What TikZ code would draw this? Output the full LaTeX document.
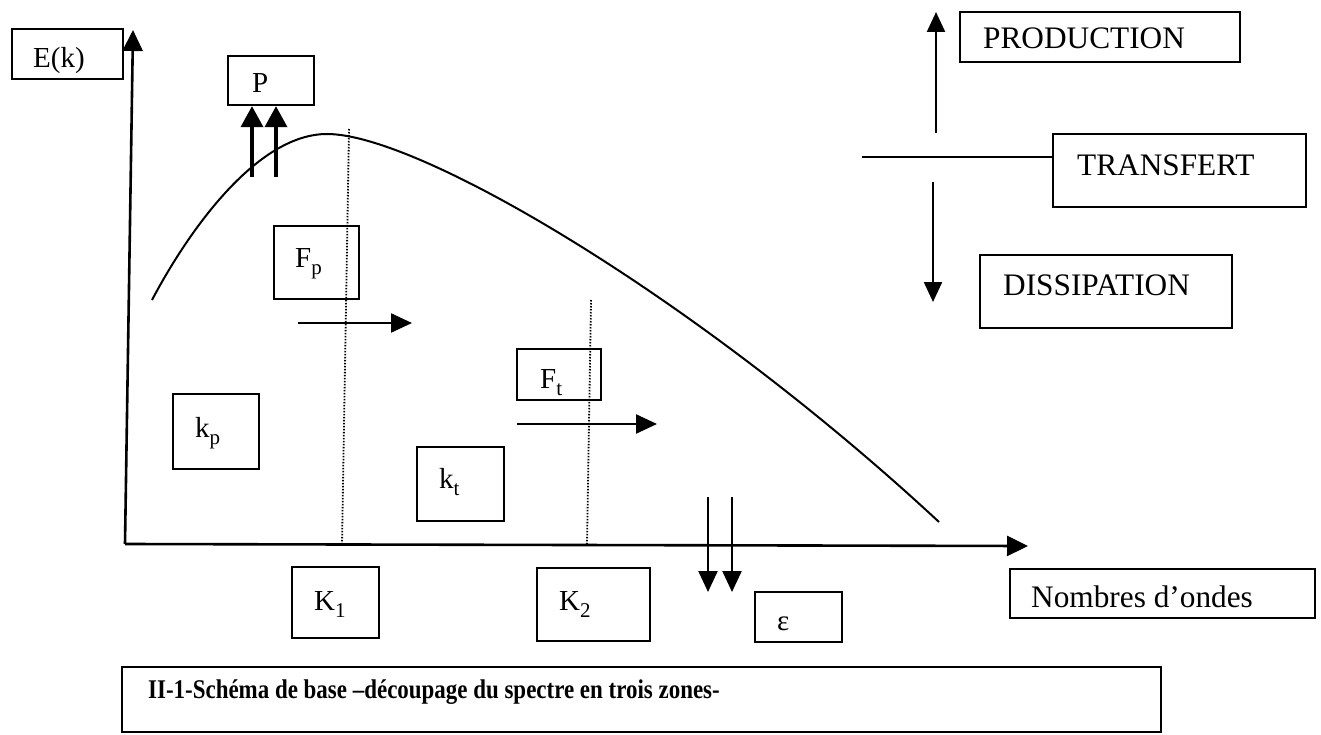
\documentclass[tikz,border=0pt]{standalone}
\usepackage{fontspec}
\setmainfont{Liberation Serif}
\usetikzlibrary{arrows.meta}
\newcommand{\sbs}[1]{\raisebox{-.25em}{\fontsize{21}{21}\selectfont #1}}
\begin{document}
\begin{tikzpicture}[x=1pt,y=-1pt,
  box/.style={draw,line width=2.3pt,rectangle,inner sep=0pt},
  lbl/.style={anchor=base west,inner sep=0pt,font=\fontsize{29}{34}\selectfont},
  biglbl/.style={anchor=base west,inner sep=0pt,font=\fontsize{31.3}{36}\selectfont},
  caplbl/.style={anchor=base west,inner sep=0pt,font=\fontsize{27}{32}\selectfont\bfseries},
  axis/.style={line width=2.6pt,-{Triangle[length=21pt,width=20pt]}},
  flux/.style={line width=2.3pt,-{Triangle[length=21pt,width=19pt]}},
  flux2/.style={line width=3.6pt,-{Triangle[length=21pt,width=22pt]}},
  side/.style={line width=2.3pt,-{Triangle[length=20pt,width=18pt]}},
  curve/.style={line width=2pt},
  kline/.style={line width=1.8pt,dash pattern=on 1.5pt off 1.5pt}]
\useasboundingbox (0,0) rectangle (1321,735);
\fill[white] (0,0) rectangle (1321,735);

% axes
\coordinate (O) at (125,544);
\coordinate (ytop) at (133,30);
\coordinate (xend) at (1028,546);
\draw[axis] (O) -- (ytop);
\draw[axis] (O) -- (xend);

% spectrum curve
\coordinate (c0) at (152,300);
\coordinate (cpk) at (327,134);
\coordinate (c1) at (939,522);
\draw[curve] (c0) .. controls (190,228) and (258,134) .. (cpk)
                  .. controls (420,134) and (700,300) .. (c1);

% dotted separations
\coordinate (k1t) at (349,129);
\coordinate (k1b) at (342,544);
\coordinate (k2t) at (591,300);
\coordinate (k2b) at (587,545);
\draw[kline] (k1t) -- (k1b);
\draw[kline] (k2t) -- (k2b);

% boxes
\node[box,minimum width=111pt,minimum height=50pt] (ek) at (67.5,54) {};
\node[box,minimum width=86pt,minimum height=49pt] (P) at (271,80.5) {};
\node[box,minimum width=85pt,minimum height=73pt] (Fp) at (316.5,262.5) {};
\node[box,minimum width=84pt,minimum height=51pt] (Ft) at (559,374.5) {};
\node[box,minimum width=86pt,minimum height=75pt] (kp) at (216,431.5) {};
\node[box,minimum width=87pt,minimum height=74pt] (kt) at (460.5,484) {};
\node[box,minimum width=87pt,minimum height=71pt] (K1) at (335.5,602.5) {};
\node[box,minimum width=113pt,minimum height=73pt] (K2) at (593.5,604.5) {};
\node[box,minimum width=87pt,minimum height=50pt] (eps) at (798.5,617) {};
\node[box,minimum width=280pt,minimum height=50pt] (prod) at (1100,37) {};
\node[box,minimum width=253pt,minimum height=73pt] (trans) at (1179.5,170.5) {};
\node[box,minimum width=252pt,minimum height=73pt] (diss) at (1106,291.5) {};
\node[box,minimum width=305pt,minimum height=49pt] (nomb) at (1162.5,593.5) {};
\node[box,minimum width=1039pt,minimum height=65pt] (cap) at (641.5,699.5) {};

% texts
\node[lbl] (ekt) at (33,68) {E(k)};
\node[lbl] (Pt) at (252,93) {P};
\node[lbl] (Fpt) at (295,267) {F\sbs{p}};
\node[lbl] (Ftt) at (540,388) {F\sbs{t}};
\node[lbl] (kpt) at (195,437) {k\sbs{p}};
\node[lbl] (ktt) at (439,488) {k\sbs{t}};
\node[lbl] (K1t) at (314,610) {K\sbs{1}};
\node[lbl] (K2t) at (559,610) {K\sbs{2}};
\node[lbl] (epst) at (777,630) {ε};
\node[biglbl] (prodt) at (983,49) {PRODUCTION};
\node[biglbl] (transt) at (1077,176) {TRANSFERT};
\node[biglbl] (disst) at (1003,295) {DISSIPATION};
\node[biglbl] (nombt) at (1031,607) {Nombres d’ondes};
\node[caplbl] (capt) at (148,698) {\scalebox{0.85}[1]{II-1-Schéma de base –découpage du spectre en trois zones-}};

% production arrows under P
\coordinate (pa1) at (252,177);
\coordinate (pa2) at (276,177);
\draw[flux2] (pa1) -- (pa1 |- P.south);
\draw[flux2] (pa2) -- (pa2 |- P.south);

% transfer arrows
\coordinate (fa1) at (298,323);
\coordinate (fa2) at (412,323);
\draw[flux] (fa1) -- (fa2);
\coordinate (ta1) at (517,424);
\coordinate (ta2) at (657,424);
\draw[flux] (ta1) -- (ta2);

% dissipation arrows
\coordinate (da1) at (708,497);
\coordinate (da1e) at (708,592);
\coordinate (da2) at (732,497);
\coordinate (da2e) at (732,592);
\draw[flux] (da1) -- (da1e);
\draw[flux] (da2) -- (da2e);

% legend on the right
\coordinate (up0) at (936,133);
\coordinate (up1) at (936,12);
\draw[side] (up0) -- (up1);
\coordinate (tl) at (862,157);
\draw[line width=2.3pt] (tl) -- (tl -| trans.west);
\coordinate (dn0) at (933,182);
\coordinate (dn1) at (933,302);
\draw[side] (dn0) -- (dn1);
\end{tikzpicture}
\end{document}
